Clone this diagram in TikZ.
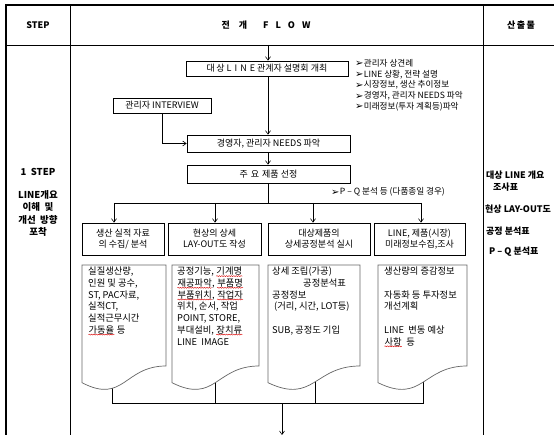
\documentclass[tikz,border=0pt]{standalone}
\usepackage{fontspec}
\setmainfont{Noto Sans CJK KR}
\newfontfamily\dvfont{DejaVu Sans}
\usetikzlibrary{arrows.meta,decorations.pathmorphing}
\newcommand\bulmark{\raisebox{-0.3pt}{\dvfont\fontsize{10}{10}\selectfont ➢}\hspace{0.3pt}}
\newcommand\docshape[3]{%
  \path[docsh] (#1,#3) -- (#2,#3) -- (#2,{#3+101})
    .. controls ({(#1+#2)/2},{#3+101}) and ({(#1+#2)/2},{#3+139.5}) .. (#1,{#3+117.7}) -- cycle;}
\newcommand\sqw[1]{\tikz[baseline=(w.base)]{\node[inner sep=0pt](w){#1};
  \draw[red!85!black, line width=0.4pt, decorate, decoration={snake,amplitude=0.5pt,segment length=2.4pt}]
   ([yshift=-1.2pt]w.base west) -- ([yshift=-1.2pt]w.base east);}}
\begin{document}
\begin{tikzpicture}[x=1pt,y=-1pt,
  box/.style={draw, line width=0.7pt, inner sep=0pt, align=center, font=\fontsize{9}{11}\selectfont},
  arr/.style={-{Straight Barb[length=3.5pt,width=5pt]}, line width=0.6pt},
  ln/.style={line width=0.6pt},
  docsh/.style={draw=black!60, line width=0.7pt, fill=white},
  dtext/.style={anchor=north west, align=left, inner sep=0pt, font=\fontsize{9.3}{11.7}\selectfont},
  tbl/.style={line width=0.8pt},
  hd/.style={font=\bfseries\fontsize{9}{11}\selectfont, inner sep=0pt},
  side/.style={font=\bfseries\fontsize{9}{11}\selectfont, inner sep=0pt, anchor=west},
  note/.style={anchor=north west, align=left, inner sep=0pt, font=\fontsize{8.6}{10.8}\selectfont},
]
\useasboundingbox (0,0) rectangle (554,435);
\fill[white] (0,0) rectangle (554,435);

% table
\draw[line width=1.3pt] (6,435) -- (6,5) -- (554,5);
\draw[tbl] (6,45) -- (554,45);
\draw[tbl] (70,5) -- (70,435);
\draw[tbl] (483,5) -- (483,435);

% header
\node[hd] (h1) at (38,25.5) {STEP};
\node[hd] (h2) at (266,25.5) {전\hspace{9pt}개\hspace{16pt}F\hspace{7pt}L\hspace{7pt}O\hspace{7pt}W};
\node[hd] (h3) at (521,25.5) {산\,출\,물};

% left column
\node[font=\bfseries\fontsize{9.5}{12}\selectfont, inner sep=0pt] (stp) at (38,172) {1\ \ STEP};
\node[font=\bfseries\fontsize{9.5}{12.4}\selectfont, inner sep=0pt, align=center, anchor=north] (stpt) at (38,190)
  {LINE개요\\이해\ \ 및\\개선\ \ 방향\\포착};

% right column
\node[side] (o1) at (486,175) {대상 LINE 개요};
\node[side] (o1b) at (493,187) {조사표};
\node[side] (o2) at (485,209) {현상 LAY-OUT도};
\node[side] (o3) at (486,231) {공정 분석표};
\node[side] (o4) at (489,252) {P – Q 분석표};

% flow boxes
\coordinate (top) at (268,45);
\node[box, minimum width=162pt, minimum height=15pt] (A) at (267,68.5) {대\,상 L\,\,I\,\,N\,\,E 관계자 설명회 개최};
\node[box, minimum width=98pt, minimum height=15pt] (I) at (162,105.5) {관리자 INTERVIEW};
\node[box, minimum width=163pt, minimum height=17pt] (N) at (268.5,143.5) {경영자, 관리자 NEEDS 파악};
\node[box, minimum width=163pt, minimum height=18pt] (S) at (268.5,174) {주\,\,요\,\,제품 선정};

\node[note] (bl) at (355,59) {\bulmark{}관리자 상견례\\\bulmark{}LINE 상황, 전략 설명\\\bulmark{}시장정보, 생산 추이정보\\\bulmark{}경영자, 관리자 NEEDS 파악\\\bulmark{}미래정보(투자 계획등)파악};
\node[note, anchor=west] (pq) at (331,192) {\bulmark{}P – Q 분석 등 (다품종일 경우)};

\draw[arr] (top) -- (top |- A.north);
\draw[arr] (A.south -| 268,0) -- (N.north -| 268,0);
\draw[arr] (N.south -| 268,0) -- (S.north -| 268,0);
\draw[arr] (I.south) |- (N.west);

% distribution
\coordinate (j0) at (268,203);
\draw[ln] (S.south -| 268,0) -- (j0);
\draw[ln] (114,203) -- (421,203);

\node[box, minimum width=82pt, minimum height=32pt] (B1) at (123,239) {생산 실적 자료\\의 수집/ 분석};
\node[box, minimum width=93pt, minimum height=32pt] (B2) at (214.5,239) {현상의 상세\\LAY-OUT도 작성};
\node[box, minimum width=102pt, minimum height=32pt] (B3) at (319,239) {대상제품의\\상세공정분석 실시};
\node[box, minimum width=91pt, minimum height=32pt] (B4) at (419.5,239) {LINE, 제품(시장)\\미래정보수집,조사};

\draw[arr] (114,203) -- (B1.north -| 114,0);
\draw[arr] (215,203) -- (B2.north -| 215,0);
\draw[arr] (313,203) -- (B3.north -| 313,0);
\draw[arr] (421,203) -- (B4.north -| 421,0);

% bottom collectors (drawn before documents so documents hide the top part)
\coordinate (c1) at (112,370);
\coordinate (c2) at (215,370);
\coordinate (c3) at (315,370);
\coordinate (c4) at (423,370);
\coordinate (e) at (282,435);
\draw[ln] (c1) -- (112,403) -- (423,403) -- (c4);
\draw[ln] (c2) -- (215,403);
\draw[ln] (c3) -- (315,403);
\draw[arr] (282,403) -- (e);

% documents
\docshape{82}{166}{265}
\docshape{172}{259}{265}
\docshape{268}{360}{265}
\docshape{378}{467}{265}

\node[dtext] (t1) at (88,267) {실질생산량,\\인원 및 공수,\\ST, PAC자료,\\실적CT,\\실적근무시간\\\sqw{가동율} 등};
\node[dtext] (t2) at (177,267) {공정기능, \sqw{기계명}\\\sqw{재공파악}, \sqw{부품명}\\\sqw{부품위치}, \sqw{작업자}\\위치, 순서, 작업\\POINT, STORE,\\부대설비, \sqw{장치류}\\LINE\ \ IMAGE};
\node[dtext] (t3) at (272,267) {상세 조립(가공)\\\hspace*{31pt}공정분석표\\공정정보\\\hspace*{2pt}(거리, 시간, LOT등)\\[11.7pt]SUB, 공정도 기입};
\node[dtext] (t4) at (384,267) {생산량의 증감정보\\[11.7pt]자동화 등 투자정보\\개선계획\\[11.7pt]LINE\ \ 변동 예상\\\sqw{사항}\ \ 등};
\end{tikzpicture}
\end{document}
